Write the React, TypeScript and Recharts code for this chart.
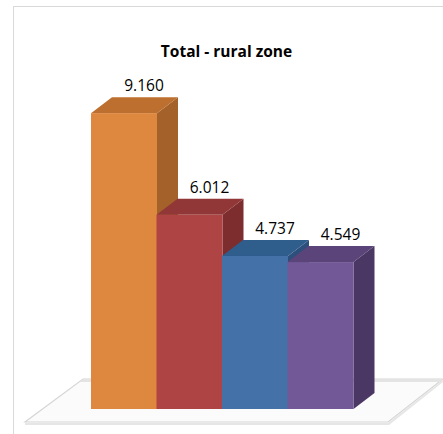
import React from 'react';
import { BarChart, Bar, XAxis, YAxis, LabelList } from 'recharts';

// Chart data
const categories = ['Group 1', 'Group 2', 'Group 3', 'Group 4'];
const values = [9.16, 6.012, 4.737, 4.549];
const title = 'Total - rural zone';

// Face colours for each bar: front, top, side
const PALETTE = [
  { front: '#DE883F', top: '#BC6F2F', side: '#A4612A' },
  { front: '#AE4544', top: '#923737', side: '#7E2D2E' },
  { front: '#4571A9', top: '#2F5D8C', side: '#2D4F7C' },
  { front: '#725896', top: '#5A4479', side: '#4A3763' },
];

const DEPTH_X = 21;
const DEPTH_Y = 16;

const data = categories.map((name, i) => ({ name, value: values[i] }));

function Bar3D(props: any) {
  const { x, y, width, height, index } = props;
  const c = PALETTE[index % PALETTE.length];
  const x2 = x + width;
  const yb = y + height;
  return (
    <g>
      <polygon
        points={`${x2},${y} ${x2 + DEPTH_X},${y - DEPTH_Y} ${x2 + DEPTH_X},${yb - DEPTH_Y} ${x2},${yb}`}
        fill={c.side}
      />
      <polygon
        points={`${x},${y} ${x + DEPTH_X},${y - DEPTH_Y} ${x2 + DEPTH_X},${y - DEPTH_Y} ${x2},${y}`}
        fill={c.top}
      />
      <rect x={x} y={y} width={width} height={height} fill={c.front} />
    </g>
  );
}

function ValueLabel(props: any) {
  const { x, y, width, value } = props;
  return (
    <text
      x={x + width / 2 + DEPTH_X - 1}
      y={y - DEPTH_Y - 6}
      textAnchor="middle"
      fontFamily="'Open Sans', sans-serif"
      fontSize={15.5}
      fill="#000"
    >
      {Number(value).toFixed(3)}
    </text>
  );
}

export default function App() {
  return (
    <div style={{ position: 'absolute', left: 0, top: 0, width: 443, height: 434, background: '#fff', overflow: 'hidden' }}>
      {/* chart frame */}
      <div
        style={{
          position: 'absolute',
          left: 13,
          top: 6,
          width: 460,
          height: 460,
          border: '1px solid #d9d9d9',
          boxSizing: 'border-box',
        }}
      />
      {/* floor plate */}
      <svg width={443} height={434} style={{ position: 'absolute', left: 0, top: 0 }}>
        <polygon points="25,423 388,423 443,380 443,382 389,425 25,425" fill="#e6e6e6" />
        <polygon points="25,422 388,422 443,379 83,379" fill="#fbfbfb" stroke="#d6d6d6" strokeWidth={1.2} />
        <polygon points="83,379 443,379 440,382 80,382" fill="#e4e4e4" />
      </svg>
      <div
        style={{
          position: 'absolute',
          left: 0,
          top: 40,
          width: 453,
          textAlign: 'center',
          fontFamily: "'Open Sans', sans-serif",
          fontWeight: 700,
          fontSize: 15.5,
          lineHeight: '22px',
          color: '#000',
        }}
      >
        {title}
      </div>
      <div style={{ position: 'absolute', left: 0, top: 0 }}>
        <BarChart
          width={443}
          height={434}
          data={data}
          margin={{ top: 86, right: 90, bottom: 25, left: 91 }}
          barCategoryGap={0}
          barGap={0}
        >
          <XAxis dataKey="name" hide />
          <YAxis hide domain={[0, 10]} />
          <Bar dataKey="value" shape={<Bar3D />} isAnimationActive={false}>
            <LabelList dataKey="value" content={<ValueLabel />} />
          </Bar>
        </BarChart>
      </div>
    </div>
  );
}
